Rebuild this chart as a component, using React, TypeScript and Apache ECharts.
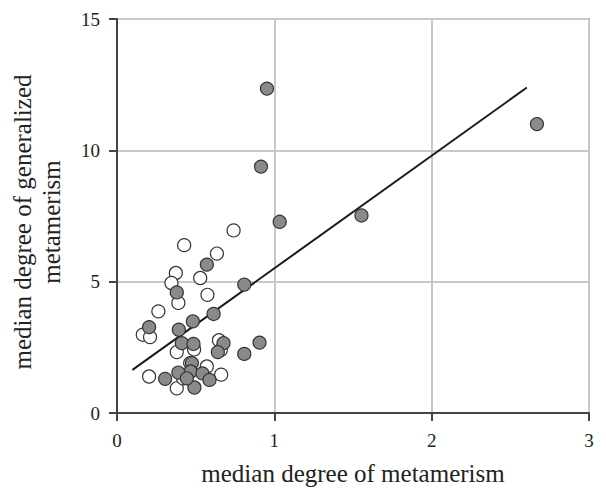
import React, { useEffect, useRef } from "react";
import * as echarts from "echarts";

// open (white) points: [median degree of metamerism, median degree of generalized metamerism]
const openPoints: number[][] = [
  [0.741, 6.95], [0.427, 6.39], [0.635, 6.07], [0.374, 5.33], [0.346, 4.95],
  [0.529, 5.14], [0.575, 4.5], [0.39, 4.19], [0.263, 3.87], [0.164, 2.98],
  [0.21, 2.89], [0.38, 2.32], [0.49, 2.42], [0.648, 2.77], [0.66, 2.4],
  [0.204, 1.39], [0.38, 0.94], [0.571, 1.77], [0.662, 1.46], [0.465, 1.9],
  [0.42, 1.32],
];

// filled (grey) points
const filledPoints: number[][] = [
  [1.034, 7.28], [0.571, 5.65], [0.38, 4.59], [0.809, 4.89], [0.614, 3.77],
  [0.482, 3.49], [0.204, 3.27], [0.393, 3.17], [0.412, 2.66], [0.486, 2.63],
  [0.677, 2.66], [0.641, 2.32], [0.906, 2.68], [0.809, 2.25], [0.476, 1.9],
  [0.469, 1.58], [0.39, 1.54], [0.543, 1.51], [0.306, 1.3], [0.588, 1.26],
  [0.492, 0.97], [0.444, 1.32], [0.953, 12.35], [0.915, 9.38], [1.554, 7.52],
  [2.669, 11.0],
];

// regression line endpoints
const fitLine: number[][] = [
  [0.098, 1.64],
  [2.605, 12.39],
];

const xTicks = [0, 1, 2, 3];
const yTicks = [0, 5, 10, 15];

const FONT = "'Liberation Serif', 'Times New Roman', serif";

export default function App() {
  const ref = useRef<HTMLDivElement>(null);
  useEffect(() => {
    if (!ref.current) return;
    const chart = echarts.init(ref.current, null, { renderer: "svg" });
    chart.setOption({
      animation: false,
      backgroundColor: "#ffffff",
      grid: {
        left: 117,
        top: 19,
        right: 17,
        bottom: 79,
        show: true,
        borderColor: "#444",
        borderWidth: 1.5,
        backgroundColor: "transparent",
      },
      xAxis: {
        type: "value",
        min: xTicks[0],
        max: xTicks[xTicks.length - 1],
        interval: 1,
        name: "median degree of metamerism",
        nameLocation: "middle",
        nameGap: 48,
        nameTextStyle: { fontFamily: FONT, fontSize: 25, color: "#222" },
        axisLine: { show: true, lineStyle: { color: "#444", width: 2 } },
        axisTick: { show: true, length: 8, lineStyle: { color: "#444", width: 2 } },
        axisLabel: { fontFamily: FONT, fontSize: 19, color: "#222", margin: 18 },
        splitLine: { show: true, lineStyle: { color: "#c8c8c8", width: 2 } },
      },
      yAxis: {
        type: "value",
        min: yTicks[0],
        max: yTicks[yTicks.length - 1],
        interval: 5,
        axisLine: { show: true, lineStyle: { color: "#444", width: 2 } },
        axisTick: { show: true, length: 8, lineStyle: { color: "#444", width: 2 } },
        axisLabel: { fontFamily: FONT, fontSize: 19, color: "#222", margin: 17 },
        splitLine: { show: true, lineStyle: { color: "#c8c8c8", width: 2 } },
      },
      graphic: [
        {
          type: "text",
          x: 37,
          y: 222,
          rotation: Math.PI / 2,
          style: {
            text: "median degree of generalized\nmetamerism",
            fontFamily: FONT,
            fontSize: 25,
            lineHeight: 29,
            fill: "#222",
            align: "center",
            verticalAlign: "middle",
          },
        },
      ],
      series: [
        {
          type: "line",
          data: fitLine,
          symbol: "none",
          lineStyle: { color: "#1a1a1a", width: 2 },
          z: 3,
        },
        {
          type: "scatter",
          data: openPoints,
          symbol: "circle",
          symbolSize: 13,
          itemStyle: { color: "#ffffff", borderColor: "#333", borderWidth: 1.2, opacity: 1 },
          z: 4,
        },
        {
          type: "scatter",
          data: filledPoints,
          symbol: "circle",
          symbolSize: 13,
          itemStyle: { color: "#8a8a8a", borderColor: "#333", borderWidth: 1.2, opacity: 1 },
          z: 5,
        },
      ],
    });
    return () => chart.dispose();
  }, []);
  return <div ref={ref} style={{ width: 606, height: 492, position: "absolute", left: 0, top: 0 }} />;
}
